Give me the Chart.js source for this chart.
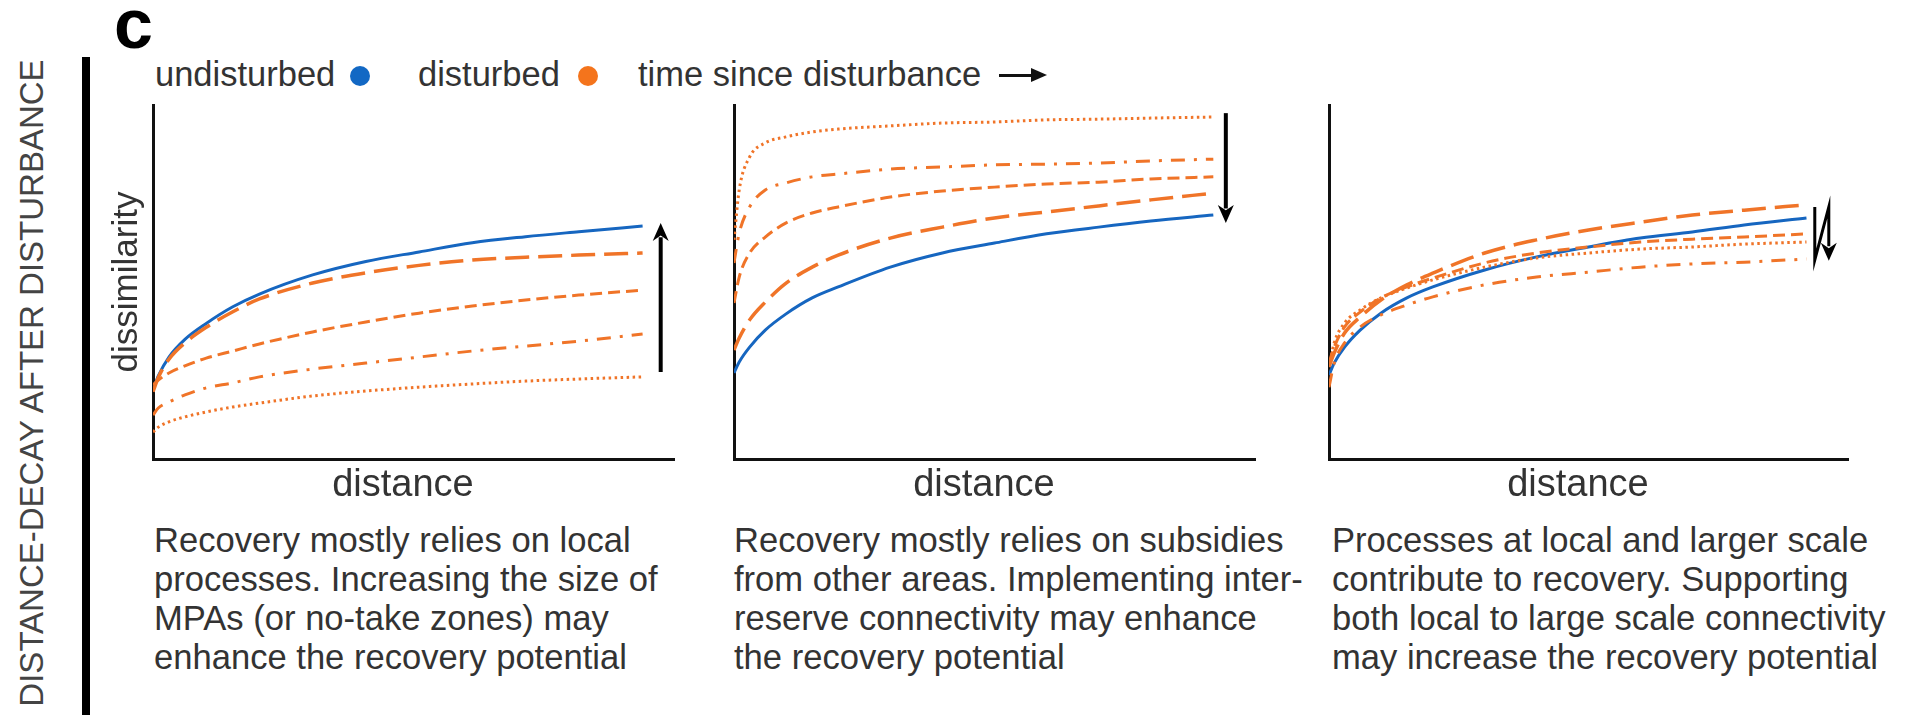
<!DOCTYPE html>
<html><head><meta charset="utf-8">
<script src="https://cdn.jsdelivr.net/npm/chart.js@4.4.0/dist/chart.umd.min.js"></script>
<style>
html,body{margin:0;padding:0;background:#fff;width:1905px;height:715px;overflow:hidden;font-family:'Liberation Sans',Arial,sans-serif;color:#333;}
.abs{position:absolute;white-space:nowrap;}
canvas{position:absolute;}
#panelc{left:114px;top:-11px;font-size:70px;line-height:70px;font-weight:bold;color:#000;}
#bar{left:82px;top:57px;width:8px;height:660px;background:#000;}
#vtitle{left:31px;top:383px;font-size:33px;line-height:33px;color:#444;transform:translate(-50%,-50%) rotate(-90deg);}
.leg{top:57px;font-size:34.5px;line-height:35px;}
.dot{width:20px;height:20px;border-radius:50%;top:66px;}
.cap{top:521px;font-size:34.6px;line-height:39px;}
</style></head><body>
<div class="abs" id="panelc">c</div>
<div class="abs" id="bar"></div>
<div class="abs" id="vtitle">DISTANCE-DECAY AFTER DISTURBANCE</div>

<div class="abs leg" style="left:155px">undisturbed</div>
<div class="abs dot" style="left:350px;background:#1268c4"></div>
<div class="abs leg" style="left:418px">disturbed</div>
<div class="abs dot" style="left:578px;background:#f4741c"></div>
<div class="abs leg" style="left:638px">time since disturbance</div>
<div class="abs" style="left:999px;top:74px;width:34px;height:3px;background:#111"></div>
<div class="abs" style="left:1031px;top:68px;width:0;height:0;border-left:16px solid #111;border-top:7.5px solid transparent;border-bottom:7.5px solid transparent"></div>

<canvas id="c1" width="579" height="415" style="left:100px;top:90px;width:579px;height:415px"></canvas>
<canvas id="c2" width="530" height="415" style="left:730px;top:90px;width:530px;height:415px"></canvas>
<canvas id="c3" width="528" height="415" style="left:1325px;top:90px;width:528px;height:415px"></canvas>

<div class="abs cap" style="left:154px">Recovery mostly relies on local<br>processes. Increasing the size of<br>MPAs (or no-take zones) may<br>enhance the recovery potential</div>
<div class="abs cap" style="left:734px">Recovery mostly relies on subsidies<br>from other areas. Implementing inter-<br>reserve connectivity may enhance<br>the recovery potential</div>
<div class="abs cap" style="left:1332px">Processes at local and larger scale<br>contribute to recovery. Supporting<br>both local to large scale connectivity<br>may increase the recovery potential</div>

<script>
// distance (fraction of axis length) shared by all curves
const distance = [0, 0.01, 0.03, 0.06, 0.1, 0.15, 0.2, 0.3, 0.4, 0.5, 0.6, 0.7, 0.8, 0.92];

// Panel 1: recovery relies on local processes
const p1Undisturbed = [0.195,0.235,0.288,0.338,0.383,0.430,0.466,0.520,0.558,0.585,0.611,0.628,0.642,0.658];
const p1LongDash    = [0.190,0.230,0.282,0.328,0.372,0.416,0.452,0.497,0.526,0.547,0.562,0.570,0.576,0.582];
const p1Dash        = [0.209,0.223,0.243,0.263,0.285,0.305,0.325,0.359,0.387,0.412,0.432,0.449,0.463,0.477];
const p1DashDot     = [0.124,0.144,0.161,0.181,0.201,0.215,0.232,0.254,0.271,0.288,0.305,0.319,0.333,0.353];
const p1Dotted      = [0.076,0.090,0.105,0.119,0.133,0.147,0.158,0.178,0.192,0.203,0.212,0.220,0.226,0.232];

// Panel 2: recovery relies on subsidies from other areas
const p2Undisturbed = [0.243,0.274,0.316,0.364,0.410,0.455,0.486,0.542,0.582,0.610,0.636,0.655,0.672,0.689];
const p2LongDash    = [0.308,0.342,0.393,0.443,0.497,0.542,0.576,0.624,0.655,0.681,0.698,0.715,0.732,0.751];
const p2Dash        = [0.441,0.514,0.582,0.627,0.667,0.695,0.712,0.740,0.757,0.768,0.777,0.782,0.791,0.797];
const p2DashDot     = [0.554,0.638,0.712,0.760,0.780,0.797,0.805,0.819,0.825,0.831,0.833,0.836,0.842,0.847];
const p2Dotted      = [0.619,0.760,0.853,0.893,0.910,0.924,0.932,0.941,0.949,0.952,0.958,0.960,0.963,0.966];

// Panel 3: local and larger scale processes
const p3Undisturbed = [0.237,0.271,0.316,0.364,0.412,0.455,0.486,0.534,0.571,0.599,0.624,0.641,0.661,0.681];
const p3LongDash    = [0.260,0.299,0.356,0.401,0.449,0.492,0.525,0.582,0.619,0.647,0.669,0.689,0.703,0.718];
const p3Dash        = [0.271,0.316,0.373,0.415,0.455,0.486,0.511,0.554,0.582,0.599,0.613,0.621,0.627,0.636];
const p3Dotted      = [0.260,0.328,0.384,0.421,0.455,0.483,0.506,0.542,0.568,0.582,0.593,0.599,0.607,0.613];
const p3DashDot     = [0.203,0.271,0.328,0.373,0.407,0.435,0.458,0.492,0.514,0.528,0.542,0.551,0.556,0.565];

// axis extents (distance) per panel
const xMax = [0.979, 1, 1];

// direction arrows (distance, dissimilarity)
const arrow1 = [[0.954,0.246],[0.954,0.667]];
const arrow2 = [[0.944,0.977],[0.944,0.667]];
const arrow3 = [[0.936,0.712],[0.936,0.562],[0.963,0.712],[0.963,0.560]];

const BLUE = '#1666c0', ORANGE = '#f07428';
const FONT = "'Liberation Sans', Arial, sans-serif";

const styles = {
  solid:    {color: BLUE,   width: 3,   dash: []},
  longDash: {color: ORANGE, width: 3.5, dash: [24, 9]},
  dash:     {color: ORANGE, width: 3,   dash: [12, 6]},
  dashDot:  {color: ORANGE, width: 3,   dash: [14, 9, 3, 9]},
  dotted:   {color: ORANGE, width: 3,   dash: [2.5, 3.5]}
};

function ds(values, style) {
  const s = styles[style];
  return {
    data: distance.map((d, i) => ({x: d, y: values[i]})),
    borderColor: s.color, borderWidth: s.width, borderDash: s.dash,
    borderCapStyle: 'butt', pointRadius: 0, fill: false,
    cubicInterpolationMode: 'monotone'
  };
}

const arrowPlugin = {
  id: 'arrows',
  afterDatasetsDraw(chart, args, opts) {
    const path = opts.path;
    if (!path || path.length < 2) return;
    const {ctx} = chart, xs = chart.scales.x, ys = chart.scales.y;
    const pts = path.map(p => [xs.getPixelForValue(p[0]), ys.getPixelForValue(p[1])]);
    const n = pts.length;
    const [tx, ty] = pts[n - 1], [bx, by] = pts[n - 2];
    const len = Math.hypot(tx - bx, ty - by);
    const ux = (tx - bx) / len, uy = (ty - by) / len;
    const headLen = 18, headHalf = 8;
    ctx.save();
    ctx.strokeStyle = '#000'; ctx.fillStyle = '#000';
    ctx.lineWidth = opts.width || 4; ctx.lineJoin = 'miter';
    ctx.beginPath();
    pts.forEach((p, i) => {
      if (i === n - 1) ctx.lineTo(tx - ux * headLen * 0.8, ty - uy * headLen * 0.8);
      else if (i === 0) ctx.moveTo(p[0], p[1]);
      else ctx.lineTo(p[0], p[1]);
    });
    ctx.stroke();
    ctx.beginPath();
    ctx.moveTo(tx, ty);
    ctx.lineTo(tx - ux * headLen - uy * headHalf, ty - uy * headLen + ux * headHalf);
    ctx.lineTo(tx - ux * headLen * 0.7, ty - uy * headLen * 0.7);
    ctx.lineTo(tx - ux * headLen + uy * headHalf, ty - uy * headLen - ux * headHalf);
    ctx.closePath();
    ctx.fill();
    ctx.restore();
  }
};

function makeChart(id, datasets, maxX, arrow, arrowWidth, showYTitle) {
  new Chart(document.getElementById(id), {
    type: 'line',
    data: {datasets},
    plugins: [arrowPlugin],
    options: {
      responsive: false, animation: false, events: [],
      layout: {padding: {top: 15, right: 5, bottom: 0, left: showYTitle ? 0 : 4}},
      plugins: {legend: {display: false}, tooltip: {enabled: false}, arrows: {path: arrow, width: arrowWidth}},
      scales: {
        x: {
          type: 'linear', min: 0, max: maxX,
          grid: {display: false, drawTicks: false},
          ticks: {display: false},
          border: {display: true, color: '#111', width: 3},
          title: {display: true, text: 'distance\u00a0\u00a0', color: '#333',
                  font: {family: FONT, size: 38, lineHeight: 1}, padding: {top: 8, bottom: 0}}
        },
        y: {
          type: 'linear', min: 0, max: 1,
          grid: {display: false, drawTicks: false},
          ticks: {display: false},
          border: {display: true, color: '#111', width: 3},
          title: {display: showYTitle, text: 'dissimilarity', color: '#333',
                  font: {family: FONT, size: 35, lineHeight: 1}, padding: {top: 10, bottom: 8}}
        }
      }
    }
  });
}

makeChart('c1', [
  ds(p1Dotted, 'dotted'), ds(p1DashDot, 'dashDot'), ds(p1Dash, 'dash'),
  ds(p1LongDash, 'longDash'), ds(p1Undisturbed, 'solid')
], xMax[0], arrow1, 4, true);

makeChart('c2', [
  ds(p2Dotted, 'dotted'), ds(p2DashDot, 'dashDot'), ds(p2Dash, 'dash'),
  ds(p2LongDash, 'longDash'), ds(p2Undisturbed, 'solid')
], xMax[1], arrow2, 4, false);

makeChart('c3', [
  ds(p3DashDot, 'dashDot'), ds(p3Dotted, 'dotted'), ds(p3Dash, 'dash'),
  ds(p3LongDash, 'longDash'), ds(p3Undisturbed, 'solid')
], xMax[2], arrow3, 3, false);
</script>
</body></html>
